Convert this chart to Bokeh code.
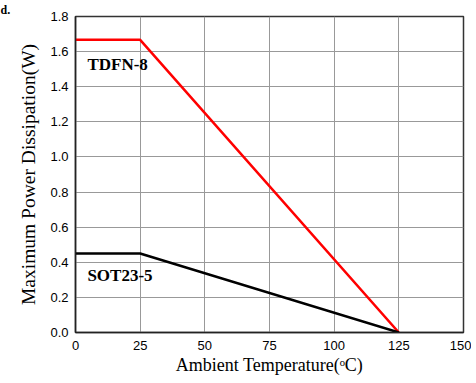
from bokeh.plotting import figure
from bokeh.models import Range1d, FixedTicker, Label, CustomJSTickFormatter, Title
from bokeh.embed import file_html
from bokeh.resources import INLINE

# Data
x_tdfn = [0, 25, 125]
y_tdfn = [1.667, 1.667, 0.0]
x_sot = [0, 25, 125]
y_sot = [0.45, 0.45, 0.0]
x_ticks = [0, 25, 50, 75, 100, 125, 150]
y_ticks = [0.0, 0.2, 0.4, 0.6, 0.8, 1.0, 1.2, 1.4, 1.6, 1.8]

p = figure(frame_width=388, frame_height=316, output_backend="svg",
           toolbar_location=None, x_range=Range1d(0, 150), y_range=Range1d(0, 1.8),
           min_border_left=75, min_border_right=8, min_border_top=15, min_border_bottom=44)
p.outline_line_color = "#333333"
p.outline_line_width = 1.5
p.background_fill_color = "white"
p.border_fill_color = "white"

p.add_layout(Title(text="d.", align="left", offset=-75, standoff=0,
                   text_font="Liberation Serif", text_font_size="12px",
                   text_font_style="bold", text_color="black"), "above")

p.xaxis.ticker = FixedTicker(ticks=x_ticks)
p.yaxis.ticker = FixedTicker(ticks=y_ticks)
p.yaxis.formatter = CustomJSTickFormatter(code="return tick.toFixed(1);")

for ax in (p.xaxis[0], p.yaxis[0]):
    ax.major_tick_out = 0
    ax.major_tick_in = 0
    ax.minor_tick_out = 0
    ax.minor_tick_in = 0
    ax.axis_line_color = "#222222"
    ax.axis_line_width = 1.5
    ax.major_label_text_font = "Liberation Sans"
    ax.major_label_text_font_size = "13px"
    ax.major_label_text_color = "black"
    ax.axis_label_text_font = "Liberation Serif"
    ax.axis_label_text_font_style = "normal"
    ax.axis_label_text_color = "black"

p.xaxis.axis_label_text_font_size = "18px"
p.yaxis.axis_label_text_font_size = "19.5px"
p.xaxis.major_label_standoff = 8
p.yaxis.major_label_standoff = 7
p.xaxis.axis_label = "Ambient Temperature(ᵒC)"
p.yaxis.axis_label = "Maximum Power Dissipation(W)"
p.xaxis.axis_label_standoff = 2
p.yaxis.axis_label_standoff = 8

p.grid.grid_line_color = "#999999"
p.grid.grid_line_width = 1
p.grid.grid_line_alpha = 1.0

p.line(x_tdfn, y_tdfn, line_color="#ff0000", line_width=2.5)
p.line(x_sot, y_sot, line_color="black", line_width=2.5)

p.add_layout(Label(x=4.6, y=1.475, text="TDFN-8", text_font="Liberation Serif",
                   text_font_size="17px", text_font_style="bold", text_color="black"))
p.add_layout(Label(x=4.6, y=0.268, text="SOT23-5", text_font="Liberation Serif",
                   text_font_size="17px", text_font_style="bold", text_color="black"))

open("out.html", "w").write(file_html(p, INLINE))
